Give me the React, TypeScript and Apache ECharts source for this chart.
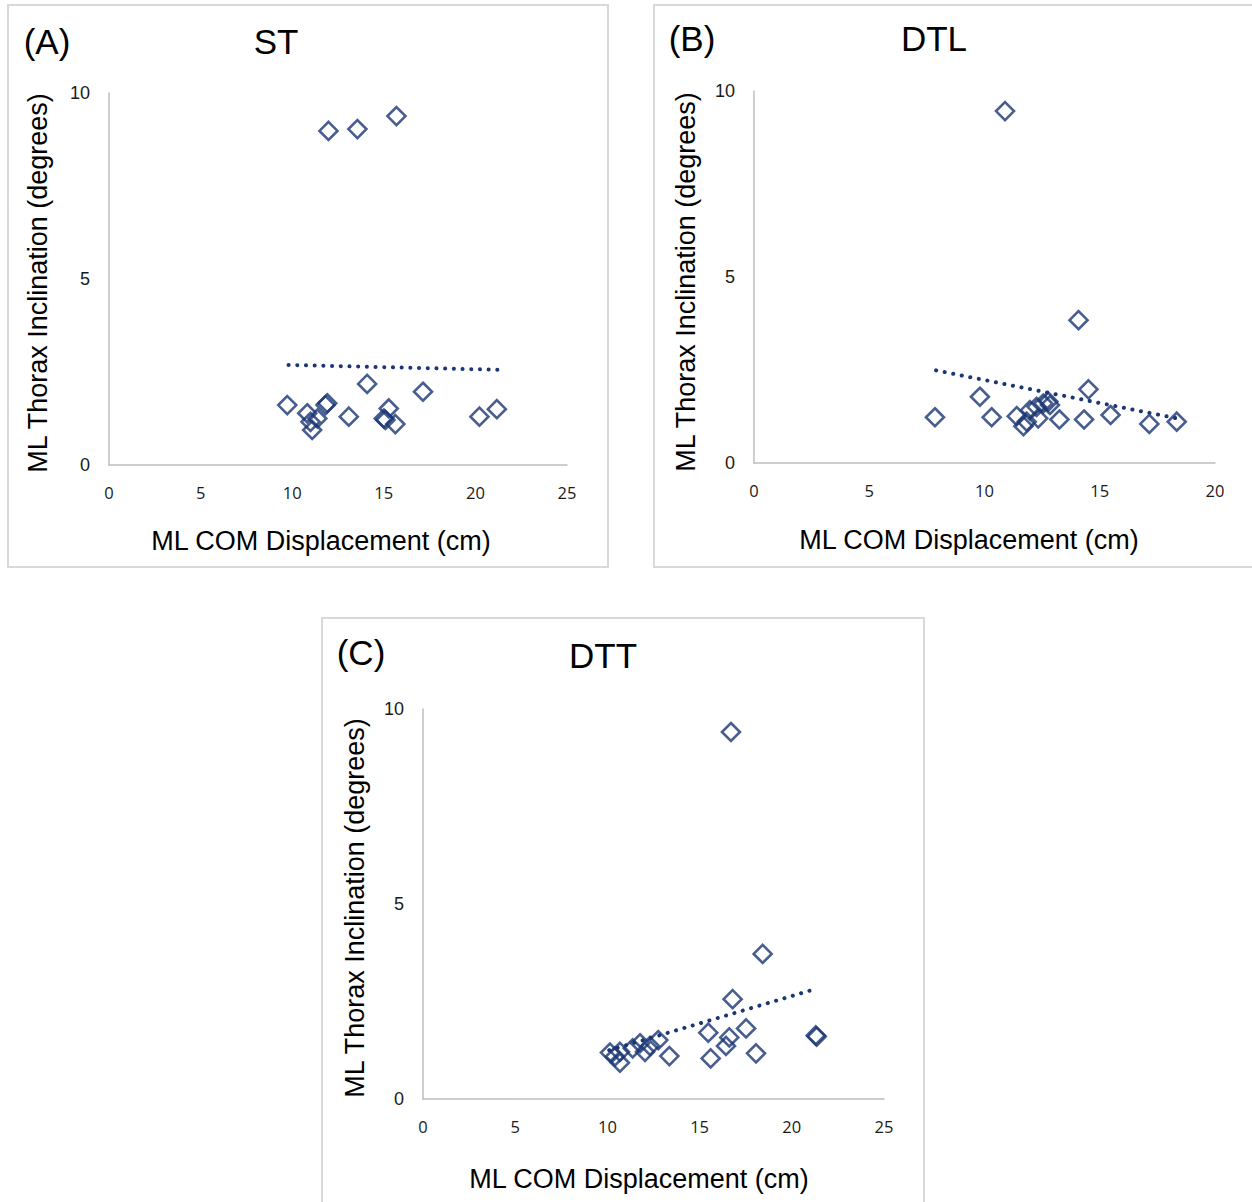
import React, { useEffect, useRef } from "react";
import * as echarts from "echarts";

// ST (A)
const stX = [11.98, 13.56, 15.69, 9.73, 10.82, 11.0, 11.09, 11.37, 11.82, 11.91, 13.09, 14.09, 15.0, 15.27, 15.09, 15.63, 17.14, 20.22, 21.17];
const stY = [8.98, 9.03, 9.38, 1.61, 1.39, 1.16, 0.94, 1.25, 1.61, 1.66, 1.3, 2.18, 1.25, 1.52, 1.21, 1.1, 1.97, 1.3, 1.5];
const stTrendX = [9.8, 21.2];
const stTrendY = [2.69, 2.56];

// DTL (B)
const dtlX = [10.89, 14.08, 7.85, 9.8, 10.31, 11.4, 11.69, 11.83, 11.97, 12.26, 12.33, 12.55, 12.77, 12.84, 13.25, 14.32, 14.51, 15.47, 17.15, 18.34];
const dtlY = [9.46, 3.84, 1.23, 1.78, 1.23, 1.26, 0.99, 1.11, 1.42, 1.51, 1.2, 1.6, 1.65, 1.56, 1.17, 1.17, 1.98, 1.29, 1.05, 1.11];
const dtlTrendX = [7.9, 18.35];
const dtlTrendY = [2.49, 1.2];

// DTT (C)
const dttX = [16.7, 18.42, 16.79, 17.52, 15.47, 16.61, 16.43, 15.6, 18.06, 21.35, 21.3, 13.36, 12.76, 12.31, 12.04, 11.77, 11.37, 10.68, 10.68, 10.14, 10.41];
const dttY = [9.41, 3.72, 2.56, 1.81, 1.7, 1.58, 1.36, 1.04, 1.17, 1.6, 1.63, 1.1, 1.51, 1.36, 1.21, 1.43, 1.3, 1.21, 0.93, 1.19, 1.09];
const dttTrendX = [10.1, 21.35];
const dttTrendY = [1.25, 2.83];

const xTicksAC = [0, 25];
const xTicksB = [0, 20];
const yTicks = [0, 10];

const panelLabels = ["(A)", "(B)", "(C)"];
const panelTitles = ["ST", "DTL", "DTT"];
const xTitle = "ML COM Displacement (cm)";
const yTitle = "ML Thorax Inclination (degrees)";

const NAVY = "#1a3673";
const AXIS = "#bfbfbf";

const zip = (xs: number[], ys: number[]) => xs.map((x, i) => [x, ys[i]]);

export default function App() {
  const ref = useRef<HTMLDivElement>(null);
  useEffect(() => {
    if (!ref.current) return;
    const chart = echarts.init(ref.current, null, { renderer: "svg" });

    const grids = [
      { left: 109, top: 93, width: 458, height: 372 },
      { left: 754, top: 91, width: 461, height: 372 },
      { left: 423, top: 709, width: 461, height: 390 },
    ];
    const xRanges = [xTicksAC, xTicksB, xTicksAC];

    const xAxes = grids.map((_, i) => ({
      type: "value",
      gridIndex: i,
      min: xRanges[i][0],
      max: xRanges[i][1],
      interval: 5,
      axisLine: { show: true, onZero: false, lineStyle: { color: AXIS, width: 1.5 } },
      axisTick: { show: false },
      splitLine: { show: false },
      axisLabel: { margin: 19, fontSize: 16.5, color: "#1a1a1a", fontFamily: "Open Sans" },
    }));
    const yAxes = grids.map((_, i) => ({
      type: "value",
      gridIndex: i,
      min: yTicks[0],
      max: yTicks[1],
      interval: 5,
      axisLine: { show: true, onZero: false, lineStyle: { color: AXIS, width: 1.5 } },
      axisTick: { show: false },
      splitLine: { show: false },
      axisLabel: { margin: 19, fontSize: 18, color: "#1a1a1a", fontFamily: "Liberation Sans" },
    }));

    const pts = [zip(stX, stY), zip(dtlX, dtlY), zip(dttX, dttY)];
    const trends = [zip(stTrendX, stTrendY), zip(dtlTrendX, dtlTrendY), zip(dttTrendX, dttTrendY)];

    const series: any[] = [];
    pts.forEach((d, i) => {
      series.push({
        type: "line",
        xAxisIndex: i,
        yAxisIndex: i,
        data: trends[i],
        symbol: "none",
        lineStyle: { color: NAVY, width: 4, type: [0.1, 8.6], cap: "round" },
        z: 3,
      });
      series.push({
        type: "scatter",
        xAxisIndex: i,
        yAxisIndex: i,
        data: d,
        symbol: "diamond",
        symbolSize: 18,
        itemStyle: { color: "rgba(0,0,0,0)", borderColor: NAVY, borderWidth: 2.6 },
        z: 4,
      });
    });

    const txt = (x: number, y: number, text: string, size: number, rotation = 0) => ({
      type: "text",
      x,
      y,
      rotation,
      style: {
        text,
        fontSize: size,
        fontFamily: "Liberation Sans",
        fill: "#000",
        align: "center",
        verticalAlign: "middle",
      },
    });
    const box = (x: number, y: number, w: number, h: number) => ({
      type: "rect",
      shape: { x, y, width: w, height: h },
      style: { fill: "none", stroke: "#d9d9d9", lineWidth: 2 },
      z: 0,
    });

    const graphic = [
      box(8, 5, 600, 562),
      box(654, 5, 610, 562),
      box(322, 618, 602, 600),
      txt(47, 41, panelLabels[0], 35),
      txt(276, 41, panelTitles[0], 35),
      txt(692, 38, panelLabels[1], 35),
      txt(934, 38, panelTitles[1], 35),
      txt(361, 652, panelLabels[2], 35),
      txt(603, 655, panelTitles[2], 35),
      txt(321, 541, xTitle, 27),
      txt(969, 540, xTitle, 27),
      txt(639, 1179, xTitle, 27),
      txt(38, 283, yTitle, 27, Math.PI / 2),
      txt(686, 282, yTitle, 27, Math.PI / 2),
      txt(355, 908, yTitle, 27, Math.PI / 2),
    ];

    chart.setOption({
      animation: false,
      backgroundColor: "#fff",
      grid: grids,
      xAxis: xAxes,
      yAxis: yAxes,
      series,
      graphic,
    });
    return () => chart.dispose();
  }, []);
  return (
    <div
      ref={ref}
      style={{ position: "absolute", left: 0, top: 0, width: 1252, height: 1202 }}
    />
  );
}
